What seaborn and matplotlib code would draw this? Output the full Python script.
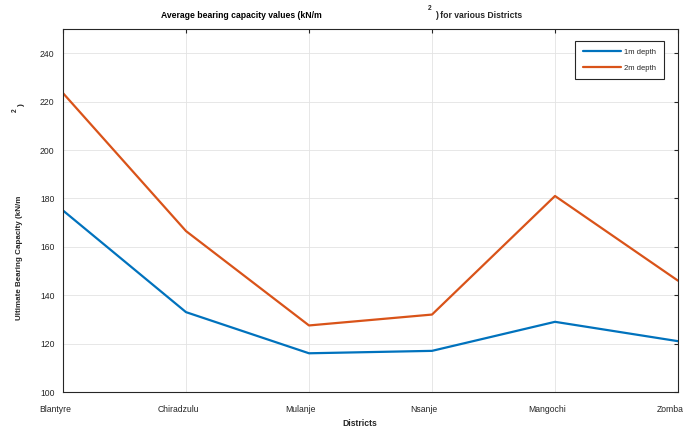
import matplotlib
matplotlib.use("Agg")
import matplotlib.pyplot as plt
import matplotlib.transforms as mtrans
import seaborn as sns
import pandas as pd

districts = ["Blantyre", "Chiradzulu", "Mulanje", "Nsanje", "Mangochi", "Zomba"]
depth_1m = [175, 133, 116, 117, 129, 121]
depth_2m = [223.5, 166.5, 127.5, 132, 181, 146]

sns.set_theme(style="white")
plt.rcParams['font.family'] = ['Liberation Sans', 'DejaVu Sans']

df = pd.DataFrame({
    "x": list(range(len(districts))) * 2,
    "value": depth_1m + depth_2m,
    "series": ["1m depth"] * len(districts) + ["2m depth"] * len(districts),
})

fig = plt.figure(figsize=(6.9, 4.32), dpi=100)
ax = fig.add_axes([63/690, 1-392/432, (678-63)/690, (392-29)/432])

sns.lineplot(data=df, x="x", y="value", hue="series",
             palette=["#0072BD", "#D95319"], linewidth=1.6, ax=ax)

ax.set_xlim(0, len(districts) - 1)
ax.set_ylim(100, 250)
ax.set_xticks(range(len(districts)))
ax.set_xticklabels(districts, fontsize=6.2, color="#262626")
ax.set_yticks(range(100, 241, 20))
ax.tick_params(axis="y", labelsize=6.2, labelcolor="#262626")
ax.tick_params(direction="in", length=3, width=0.8, color="#262626", pad=6,
               top=True, right=True)
ax.tick_params(axis="x", pad=9)
offset = mtrans.ScaledTranslation(-8/100, 0, fig.dpi_scale_trans)
for lab in ax.get_xticklabels():
    lab.set_transform(lab.get_transform() + offset)
ax.grid(True, color="#e3e3e3", linewidth=0.6)
for s in ax.spines.values():
    s.set_color("#262626")
    s.set_linewidth(0.8)
ax.set_xlabel("")
ax.set_ylabel("")

leg = ax.legend(loc="upper right", bbox_to_anchor=((664-63)/615, (392-41)/363), fontsize=5.5,
                frameon=True, fancybox=False, edgecolor="#262626",
                handlelength=5.0, handletextpad=0.45, borderpad=1.0, labelspacing=1.1,
                borderaxespad=0)
leg.get_frame().set_linewidth(0.8)
leg.get_frame().set_alpha(1)
leg.set_title(None)

# title pieces
fig.text(322/690, 1-15/432, "Average bearing capacity values (kN/m", ha="right", va="center",
         fontsize=6.2, fontweight="bold", color="#000000")
fig.text(430/690, 1-8/432, "2", ha="center", va="center", fontsize=4.8, fontweight="bold")
fig.text(435/690, 1-15/432, ") for various Districts", ha="left", va="center",
         fontsize=6.2, fontweight="bold")

# y label pieces
fig.text(20/690, 1-258/432, "Ultimate Bearing Capacity (kN/m", rotation=90, ha="center",
         va="center", fontsize=5.8, fontweight="bold")
fig.text(15/690, 1-110/432, "2", rotation=90, ha="center", va="center", fontsize=4.8,
         fontweight="bold")
fig.text(21/690, 1-105/432, ")", rotation=90, ha="center", va="center", fontsize=6.0,
         fontweight="bold")

fig.text(360/690, 1-423/432, "Districts", ha="center", va="center", fontsize=6.2,
         fontweight="bold")

fig.savefig("out.png", dpi=100)
